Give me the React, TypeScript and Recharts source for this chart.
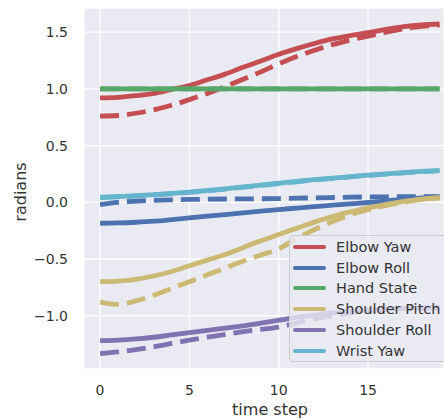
import { CartesianGrid, Line, LineChart, XAxis, YAxis } from "recharts"

// time steps and joint angles (solid and dashed traces)
const timeSteps = [0, 1, 2, 3, 4, 5, 6, 7, 8, 9, 10, 11, 12, 13, 14, 15, 16, 17, 18, 19]

const elbowYawSolid = [0.92, 0.925, 0.94, 0.96, 0.995, 1.03, 1.08, 1.13, 1.19, 1.245, 1.305, 1.355, 1.4, 1.44, 1.47, 1.495, 1.525, 1.548, 1.563, 1.572]
const elbowYawDashed = [0.76, 0.765, 0.785, 0.815, 0.855, 0.905, 0.96, 1.02, 1.085, 1.15, 1.22, 1.285, 1.34, 1.39, 1.43, 1.465, 1.5, 1.53, 1.55, 1.565]

const elbowRollSolid = [-0.185, -0.182, -0.176, -0.167, -0.153, -0.138, -0.123, -0.108, -0.093, -0.078, -0.064, -0.051, -0.038, -0.026, -0.014, -0.002, 0.012, 0.026, 0.038, 0.048]
const elbowRollDashed = [-0.02, 0.0, 0.01, 0.017, 0.022, 0.025, 0.027, 0.029, 0.03, 0.031, 0.033, 0.036, 0.039, 0.042, 0.045, 0.047, 0.048, 0.05, 0.05, 0.05]

const handStateSolid = [1.0, 1.0, 1.0, 1.0, 1.0, 1.0, 1.0, 1.0, 1.0, 1.0, 1.0, 1.0, 1.0, 1.0, 1.0, 1.0, 1.0, 1.0, 1.0, 1.0]
const handStateDashed = [1.0, 1.0, 1.0, 1.0, 1.0, 1.0, 1.0, 1.0, 1.0, 1.0, 1.0, 1.0, 1.0, 1.0, 1.0, 1.0, 1.0, 1.0, 1.0, 1.0]

const shoulderPitchSolid = [-0.7, -0.695, -0.68, -0.65, -0.61, -0.56, -0.51, -0.46, -0.4, -0.34, -0.285, -0.23, -0.175, -0.125, -0.085, -0.05, -0.018, 0.008, 0.028, 0.04]
const shoulderPitchDashed = [-0.88, -0.9, -0.87, -0.82, -0.76, -0.7, -0.64, -0.58, -0.52, -0.465, -0.41, -0.32, -0.24, -0.17, -0.11, -0.065, -0.03, 0.0, 0.025, 0.04]

const shoulderRollSolid = [-1.22, -1.215, -1.205, -1.19, -1.17, -1.15, -1.13, -1.11, -1.09, -1.065, -1.04, -1.015, -0.995, -0.975, -0.96, -0.95, -0.942, -0.936, -0.932, -0.93]
const shoulderRollDashed = [-1.335, -1.32, -1.3, -1.275, -1.245, -1.215, -1.19, -1.165, -1.14, -1.12, -1.1, -1.065, -1.03, -1.0, -0.975, -0.958, -0.946, -0.938, -0.933, -0.93]

const wristYawSolid = [0.045, 0.051, 0.058, 0.067, 0.078, 0.09, 0.104, 0.119, 0.135, 0.152, 0.168, 0.184, 0.199, 0.213, 0.226, 0.239, 0.251, 0.262, 0.272, 0.28]
const wristYawDashed = [0.04, 0.047, 0.055, 0.064, 0.075, 0.087, 0.101, 0.116, 0.132, 0.149, 0.165, 0.181, 0.196, 0.21, 0.224, 0.237, 0.249, 0.26, 0.27, 0.279]

const xTicks = [0, 5, 10, 15]
const yTicks = [-1, -0.5, 0, 0.5, 1, 1.5]

const joints = [
  { key: "elbowYaw", name: "Elbow Yaw", color: "#C44E52", solid: elbowYawSolid, dashed: elbowYawDashed },
  { key: "elbowRoll", name: "Elbow Roll", color: "#4C72B0", solid: elbowRollSolid, dashed: elbowRollDashed },
  { key: "handState", name: "Hand State", color: "#55A868", solid: handStateSolid, dashed: handStateDashed },
  { key: "shoulderPitch", name: "Shoulder Pitch", color: "#CCB974", solid: shoulderPitchSolid, dashed: shoulderPitchDashed },
  { key: "shoulderRoll", name: "Shoulder Roll", color: "#8172B2", solid: shoulderRollSolid, dashed: shoulderRollDashed },
  { key: "wristYaw", name: "Wrist Yaw", color: "#64B5CD", solid: wristYawSolid, dashed: wristYawDashed },
]

const data = timeSteps.map((t, i) => {
  const row: Record<string, number> = { t }
  joints.forEach((j) => {
    row[j.key + "Solid"] = j.solid[i]
    row[j.key + "Dashed"] = j.dashed[i]
  })
  return row
})

const font = "'DejaVu Sans', sans-serif"
const textColor = "#333333"

const fmtY = (v: number) => (v < 0 ? "\u2212" : "") + Math.abs(v).toFixed(1)

export default function App() {
  return (
    <div style={{ position: "absolute", left: 0, top: 0, width: 444, height: 420, overflow: "hidden", background: "#fff", fontFamily: font }}>
      <LineChart width={444} height={420} data={data} margin={{ top: 8, right: 0, left: 0, bottom: 0 }}>
        <CartesianGrid fill="#EAEAF2" stroke="#ffffff" strokeWidth={1.3} />
        <XAxis
          dataKey="t"
          type="number"
          domain={[-0.9, 19.25]}
          allowDataOverflow
          ticks={xTicks}
          height={51}
          axisLine={false}
          tickLine={false}
          tickSize={0}
          tickMargin={16}
          tick={{ fill: textColor, fontSize: 14, fontFamily: font }}
          label={{
            content: () => (
              <text x={270} y={415} textAnchor="middle" fill={textColor} fontSize={16} fontFamily={font}>
                time step
              </text>
            ),
          }}
        />
        <YAxis
          type="number"
          domain={[-1.47, 1.713]}
          allowDataOverflow
          ticks={yTicks}
          width={84}
          axisLine={false}
          tickLine={false}
          tickSize={0}
          tickMargin={16}
          tickFormatter={fmtY}
          tick={{ fill: textColor, fontSize: 14, fontFamily: font }}
          label={{
            content: () => (
              <text transform="translate(26,192) rotate(-90)" textAnchor="middle" fill={textColor} fontSize={16} fontFamily={font}>
                radians
              </text>
            ),
          }}
        />
        {joints.flatMap((j) => [
          <Line
            key={j.key + "Solid"}
            type="monotone"
            dataKey={j.key + "Solid"}
            name={j.name}
            stroke={j.color}
            strokeWidth={4.8}
            dot={false}
            activeDot={false}
            isAnimationActive={false}
          />,
          <Line
            key={j.key + "Dashed"}
            type="monotone"
            dataKey={j.key + "Dashed"}
            name={j.name}
            stroke={j.color}
            strokeWidth={4.8}
            strokeDasharray="19 8"
            strokeLinecap="butt"
            dot={false}
            activeDot={false}
            legendType="none"
            isAnimationActive={false}
          />,
        ])}
      </LineChart>
      <div
        style={{
          position: "absolute",
          left: 289,
          top: 235,
          width: 170,
          height: 127,
          boxSizing: "border-box",
          background: "rgba(234,234,242,0.8)",
          border: "1px solid #CCCCCC",
          borderRadius: 4,
        }}
      >
        {joints.map((j, i) => (
          <div
            key={j.key}
            style={{ position: "absolute", left: 0, top: 10.7 + i * 20.8 - 10, height: 20, display: "flex", alignItems: "center" }}
          >
            <div style={{ marginLeft: 3, width: 33, height: 4, borderRadius: 2, background: j.color }} />
            <span style={{ marginLeft: 10, fontSize: 14.5, color: textColor, whiteSpace: "nowrap", lineHeight: "20px" }}>{j.name}</span>
          </div>
        ))}
      </div>
    </div>
  )
}
